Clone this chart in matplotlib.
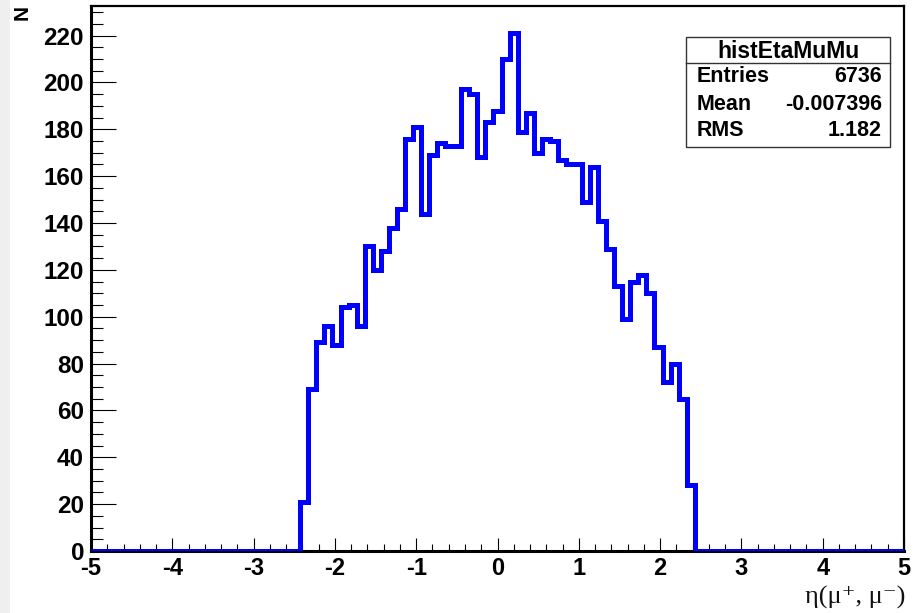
import numpy as np
import matplotlib
matplotlib.use('Agg')
import matplotlib.pyplot as plt
from matplotlib import font_manager
from matplotlib.ticker import MultipleLocator
from matplotlib.patches import Rectangle
from matplotlib.lines import Line2D

# histogram: 101 bins on [-5, 5], only |eta| < ~2.43 filled
n_bins = 101
x_min, x_max = -5, 5
first_bin = 26
counts = [21, 69, 89, 96, 88, 104, 105, 96, 130, 120, 128, 138, 146,
          176, 181, 144, 169, 174, 173, 173, 197, 195, 168, 183, 188,
          210, 221, 179, 187, 170, 176, 175, 167, 165, 165, 149, 164,
          141, 129, 113, 99, 115, 118, 110, 87, 72, 80, 65, 28]

hist_name = 'histEtaMuMu'
stat_labels = ['Entries', 'Mean', 'RMS']
stat_values = ['6736', '-0.007396', '1.182']

W, H = 922, 613


def px(x, y):
    # pixel position -> figure fraction
    return x / W, 1 - y / H


def has_font(name, weight='normal'):
    try:
        font_manager.findfont(font_manager.FontProperties(family=name, weight=weight),
                              fallback_to_default=False)
        return True
    except ValueError:
        return False


sans = 'Liberation Sans' if has_font('Liberation Sans') else 'DejaVu Sans'
if has_font('Liberation Sans Narrow', 'bold'):
    xfont, xsize = 'Liberation Sans Narrow', 20
else:
    xfont, xsize = sans, 17

edges = np.linspace(x_min, x_max, n_bins + 1)
values = np.zeros(n_bins)
values[first_bin:first_bin + len(counts)] = counts

fig = plt.figure(figsize=(W / 100, H / 100), dpi=100)
fig.patches.append(Rectangle((0, 0), 10 / W, 1, transform=fig.transFigure,
                             facecolor='#efefef', edgecolor='none', zorder=0))

l, t = px(91, 6)
r, b = px(904, 551)
ax = fig.add_axes([l, b, r - l, t - b])

step = ax.stairs(values, edges, baseline=None, color='#0000ff', linewidth=3.6, zorder=3)
step.set_joinstyle('miter')
step.set_capstyle('butt')

ax.set_xlim(x_min, x_max)
ax.set_ylim(0, 232.6)

ax.xaxis.set_major_locator(MultipleLocator(1))
ax.xaxis.set_minor_locator(MultipleLocator(0.2))
ax.yaxis.set_major_locator(MultipleLocator(20))
ax.yaxis.set_minor_locator(MultipleLocator(5))

ax.tick_params(axis='y', which='major', direction='in', length=18, width=0.8, pad=5)
ax.tick_params(axis='y', which='minor', direction='in', length=8.5, width=0.8)
ax.tick_params(axis='x', which='major', direction='in', length=9.5, width=0.8, pad=4)
ax.tick_params(axis='x', which='minor', direction='in', length=5, width=0.8)

for lab in ax.get_yticklabels():
    lab.set_fontfamily(sans)
    lab.set_fontweight('bold')
    lab.set_fontsize(17.5)
ax.set_xticks(np.arange(-5, 6, 1))
ax.set_xticklabels([str(v) for v in range(-5, 6)], fontfamily=xfont,
                   fontweight='bold', fontsize=xsize)

for side in ['left', 'bottom']:
    ax.spines[side].set_linewidth(2.2)
for side in ['top', 'right']:
    ax.spines[side].set_linewidth(1.6)

# axis titles
fig.text(*px(22, 13), 'N', rotation=90, ha='center', va='center',
         fontfamily=sans, fontweight='bold', fontsize=15)
fig.text(*px(905, 597), 'η(μ⁺, μ⁻)', ha='right', va='center',
         family=['Liberation Serif', 'DejaVu Serif'], fontsize=19, color='#111111')

# stats box
bx0, by0, bx1, by1 = 686, 37, 890, 147
x0, y1 = px(bx0, by0)
x1, y0 = px(bx1, by1)
fig.patches.append(Rectangle((x0, y0), x1 - x0, y1 - y0, transform=fig.transFigure,
                             facecolor='white', edgecolor='#333333', linewidth=1.0, zorder=5))
sy = px(0, 63)[1]
fig.lines.append(Line2D([x0, x1], [sy, sy], transform=fig.transFigure,
                        color='#333333', linewidth=1.0, zorder=6))
fig.text(*px(788, 51), hist_name, ha='center', va='center', fontfamily=sans,
         fontweight='bold', fontsize=16.5, zorder=7)
for i, (name, val) in enumerate(zip(stat_labels, stat_values)):
    yrow = 77 + 27 * i
    fig.text(*px(697, yrow), name, ha='left', va='center', fontfamily=sans,
             fontweight='bold', fontsize=15.5, zorder=7)
    fig.text(*px(882, yrow), val, ha='right', va='center', fontfamily=sans,
             fontweight='bold', fontsize=15.5, zorder=7)

fig.savefig('out.png', dpi=100)
